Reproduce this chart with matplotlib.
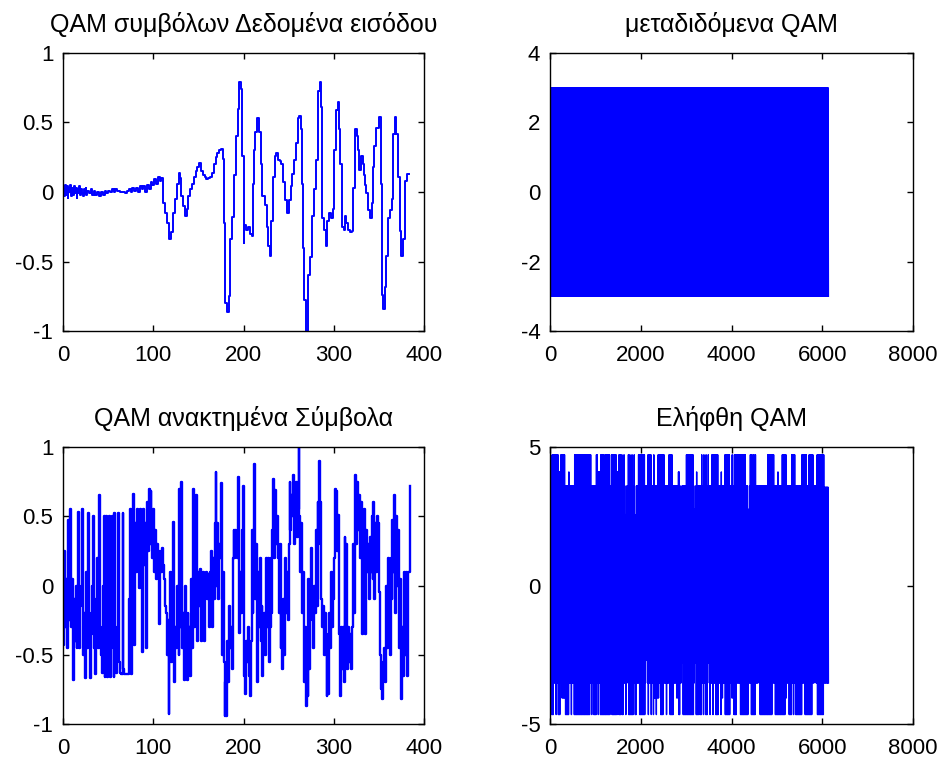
import numpy as np
import matplotlib
matplotlib.use("Agg")
import matplotlib.pyplot as plt
from matplotlib.ticker import FormatStrFormatter

SAMPLES_PER_SYMBOL = 16
N_SYMBOLS = 384

# input data (sample index where the held value changes, value)
inp_idx = [0, 1, 2, 3, 4, 5, 6, 7, 8, 9, 10, 11, 12, 13, 14, 15, 16, 17, 18, 19,
           20, 21, 22, 23, 24, 25, 26, 27, 29, 31, 32, 34, 36, 38, 40, 42, 44, 46,
           48, 50, 52, 54, 56, 58, 60, 63, 67, 69, 71, 73, 75, 77, 79, 81, 83, 85,
           87, 89, 91, 93, 95, 97, 99, 101, 103, 105, 107, 109,
           111, 113, 115, 117, 118, 120, 122, 124, 126, 128, 130, 131, 133, 135,
           137, 139, 141, 143, 145, 147, 149, 151, 153, 155, 157, 159, 161, 163,
           165, 167, 169, 171, 173, 175, 177, 178, 180, 182, 184, 185, 187, 189,
           190, 192, 194, 195, 197, 198, 200, 201, 203, 205, 207, 209, 211, 212,
           213, 215, 217, 219, 220, 221, 224, 226, 227, 229, 231, 233, 235, 236,
           238, 240, 242, 244, 246, 248, 250, 253, 254, 256, 258, 260, 262, 264,
           265, 266, 267, 269, 272, 274, 276, 278, 280, 282, 283, 285, 286, 287,
           289, 291, 293, 295, 297, 299, 300, 302, 303, 305, 306, 307, 309, 311,
           312, 314, 316, 318, 320, 321, 323, 324, 326, 327, 328, 330, 332, 333,
           335, 336, 338, 340, 342, 343, 345, 347, 350, 352, 353, 355, 357, 358,
           360, 362, 364, 366, 368, 369, 371, 373, 375, 377, 379, 381, 383]
inp_val = [0.02, -0.03, 0.05, -0.02, 0.04, -0.04, 0.03, 0.0, 0.05, -0.03, 0.03,
           -0.02, 0.04, -0.01, 0.03, -0.04, 0.02, -0.01, 0.04, -0.02,
           0.02, -0.01, -0.03, 0.02, -0.01, 0.03, -0.02, 0.01, -0.01, 0.02, -0.02,
           0.01, -0.02, 0.0, -0.03, 0.0, -0.02, 0.01, -0.01, 0.01, 0.0, 0.02, 0.0,
           0.02, 0.01, 0.0, 0.0, -0.01, 0.01, 0.02, 0.0, 0.03, 0.01, 0.03, 0.0,
           0.04, 0.02, 0.04, 0.0, 0.05, 0.02, 0.07, 0.05, 0.09, 0.06, 0.11, 0.08,
           0.10,
           -0.08, -0.15, -0.22, -0.30, -0.34, -0.29, -0.15, -0.05, 0.06, 0.14,
           0.10, -0.03, -0.10, -0.17, -0.12, -0.03, 0.02, 0.06, 0.11, 0.15, 0.18,
           0.21, 0.15, 0.12, 0.11, 0.09, 0.10, 0.11, 0.14, 0.20, 0.25, 0.28, 0.30,
           0.31, 0.24, -0.22, -0.80, -0.86, -0.75, -0.34, -0.18, -0.09, 0.12, 0.40,
           0.60, 0.79, 0.74, 0.26, -0.37, -0.24, -0.27, -0.25, -0.30, -0.32, 0.06,
           0.30, 0.43, 0.53, 0.43, 0.20, 0.06, -0.03, -0.09, -0.25, -0.39, -0.46,
           -0.21, 0.11, 0.26, 0.28, 0.23, 0.22, 0.20, 0.07, -0.06, -0.15, -0.06,
           0.04, 0.13, 0.23, 0.35, 0.53, 0.55, 0.45, 0.06, -0.40, -0.78, -1.00,
           -0.60, -0.47, -0.17, 0.02, 0.23, 0.50, 0.73, 0.79, 0.61, -0.19, -0.27,
           -0.39, -0.21, -0.15, -0.19, -0.12, 0.30, 0.45, 0.59, 0.65, 0.45, 0.20,
           -0.25, -0.27, -0.17, -0.22, -0.27, -0.29, -0.28, 0.03, 0.28, 0.45, 0.40,
           0.30, 0.16, 0.26, 0.20, 0.12, 0.05, -0.01, -0.13, -0.19, -0.08, 0.18,
           0.33, 0.46, 0.54, 0.06, -0.74, -0.84, -0.68, -0.46, -0.19, -0.13, -0.05,
           0.42, 0.54, 0.42, 0.11, -0.28, -0.46, -0.34, 0.08, 0.13, 0.13]

# recovered symbols, one value per symbol
rec_val = [
    -0.43, 0.25, -0.30, 0.05, -0.45, 0.20, 0.47, -0.25, 0.55, -0.30,
    0.05, -0.68, -0.10, -0.40, 0.00, -0.45, -0.20, 0.53, -0.45, -0.15,
    0.00, 0.55, -0.50, -0.20, -0.67, -0.30, 0.10, -0.45, 0.52, -0.20,
    -0.67, -0.35, 0.00, 0.50, -0.45, -0.10, -0.64, -0.30, 0.20, -0.45,
    0.65, -0.30, -0.50, -0.63, 0.00, 0.50, -0.66, -0.20, 0.50, -0.66,
    -0.30, 0.50, -0.66, -0.45, 0.50, -0.20, -0.66, 0.52, -0.50, -0.63,
    -0.30, 0.52, -0.55, -0.63, -0.64, -0.64, 0.52, -0.60, -0.64, -0.64,
    -0.64, -0.64, -0.64, -0.10, 0.55, -0.64, 0.20, 0.35, 0.66, -0.43,
    0.45, 0.10, 0.55, 0.25, -0.02, 0.55, 0.30, 0.05, -0.48, 0.55,
    0.15, 0.45, -0.45, 0.60, 0.25, 0.70, 0.30, 0.68, 0.40, 0.20,
    0.55, 0.10, 0.40, 0.05, 0.30, 0.15, -0.28, 0.25, 0.20, 0.10,
    0.27, 0.15, 0.05, -0.15, -0.20, -0.50, -0.25, -0.93, -0.35, 0.10,
    -0.55, -0.20, 0.46, -0.70, -0.30, -0.45, 0.00, -0.20, -0.50, 0.70,
    -0.30, 0.75, -0.45, -0.20, -0.68, 0.00, -0.40, -0.68, -0.20, -0.50,
    -0.30, -0.65, 0.05, -0.45, 0.70, -0.30, -0.05, 0.65, -0.05, -0.40,
    0.10, -0.15, 0.12, -0.40, 0.05, 0.10, -0.40, 0.08, 0.05, 0.10,
    -0.10, 0.08, -0.30, 0.10, 0.25, -0.30, 0.20, -0.10, 0.45, 0.82,
    0.00, 0.45, -0.10, 0.30, 0.20, 0.74, -0.50, 0.10, -0.55, -0.94,
    -0.70, -0.94, -0.40, -0.70, -0.15, -0.45, -0.30, -0.60, 0.20, 0.40,
    0.20, 0.40, 0.35, 0.20, 0.78, -0.34, 0.10, -0.20, 0.40, 0.72,
    -0.30, -0.65, -0.78, -0.40, -0.55, -0.30, -0.65, -0.80, -0.40, 0.40,
    -0.20, 0.10, 0.88, -0.10, 0.30, -0.70, 0.10, -0.30, 0.20, -0.40,
    -0.15, -0.65, -0.40, -0.20, -0.50, 0.20, -0.30, 0.20, -0.55, -0.30,
    0.20, -0.20, 0.40, 0.77, 0.20, 0.69, 0.30, 0.50, 0.20, -0.20,
    0.30, -0.45, -0.20, -0.60, -0.10, -0.50, 0.20, -0.20, 0.10, -0.25,
    0.30, 0.75, 0.40, 0.65, 0.50, 0.80, 0.30, 0.60, 0.75, 0.35,
    0.55, 1.00, 0.50, 0.10, 0.45, -0.20, 0.10, -0.70, -0.30, -0.87,
    -0.50, -0.80, 0.05, -0.60, -0.25, 0.27, -0.10, -0.45, 0.00, -0.20,
    0.40, -0.15, 0.60, 0.30, 0.90, 0.60, -0.10, -0.30, -0.15, -0.50,
    -0.20, -0.35, -0.80, -0.50, -0.78, -0.20, -0.45, 0.10, -0.30, -0.10,
    0.20, 0.70, 0.50, 0.68, 0.25, 0.51, -0.35, -0.80, -0.30, -0.60,
    -0.30, -0.70, 0.35, -0.40, 0.30, -0.60, -0.30, -0.55, -0.35, -0.60,
    -0.30, 0.30, -0.20, 0.30, 0.80, 0.30, 0.75, 0.40, 0.65, 0.20,
    0.60, -0.35, 0.40, 0.00, 0.55, -0.35, 0.40, 0.10, 0.30, -0.10,
    0.35, 0.10, 0.50, 0.05, 0.60, -0.10, 0.45, 0.10, 0.50, 0.45,
    -0.05, -0.50, -0.75, -0.55, -0.82, -0.60, -0.45, -0.70, 0.00, -0.45,
    0.20, -0.20, -0.50, 0.20, -0.10, 0.47, 0.10, 0.65, -0.20, 0.50,
    0.00, 0.40, -0.45, 0.05, -0.55, -0.82, -0.30, -0.65, 0.10, -0.50,
    0.10, -0.65, 0.10, 0.10, 0.72,
]

# transmitted waveform: per-symbol positive / negative peaks (symbol where a run starts)
tx_top_start = [0]
tx_top_level = [3.0]
tx_bot_start = [0]
tx_bot_level = [-3.0]

# received waveform: per-symbol positive / negative peaks (symbol where a run starts)
rx_top_start = [0, 3, 12, 15, 21, 26, 27, 34, 57, 64, 66, 70, 75, 76, 83, 85, 92,
                95, 98, 99, 100, 102, 103, 104, 106, 108, 109, 110, 111, 113,
                114, 116, 117, 119, 122, 131, 135, 140, 143, 144, 149, 158, 164,
                169, 177, 179, 180, 182, 188, 198, 199, 201, 202, 203, 209, 210,
                212, 213, 215, 216, 218, 219, 223, 232, 236, 237, 241, 248, 251,
                252, 254, 270, 273, 275, 276, 279, 280, 282, 283, 284, 300, 309,
                314, 315, 320, 326, 333, 338, 347, 354, 357, 363, 368, 378]
rx_top_level = [4.1, 4.72, 4.1, 4.72, 3.6, 4.1, 3.6, 4.72, 3.6, 4.72, 4.1, 4.72,
                4.1, 4.72, 3.6, 4.72, 4.1, 4.72, 3.6, 4.72, 3.6, 4.72, 3.6, 2.56,
                3.6, 4.72, 3.6, 4.72, 3.6, 4.72, 3.6, 4.72, 2.56, 3.6, 4.72, 3.6,
                4.72, 3.6, 4.72, 3.6, 4.72, 3.6, 4.72, 3.6, 4.1, 3.6, 2.56, 3.6,
                4.72, 3.6, 2.75, 3.6, 4.1, 3.6, 4.72, 3.6, 4.72, 3.6, 4.72, 3.6,
                4.72, 3.6, 4.72, 3.6, 4.1, 3.6, 4.72, 3.6, 4.72, 3.6, 4.72, 3.6,
                2.75, 3.6, 4.72, 3.6, 4.72, 3.6, 4.72, 3.6, 4.72, 3.6, 4.1, 3.6,
                4.72, 3.6, 4.72, 3.6, 4.72, 3.6, 4.72, 3.6, 4.72, 3.55]
rx_bot_start = [0, 2, 5, 8, 9, 11, 14, 16, 21, 26, 29, 30, 33, 55, 57, 58, 60, 64,
                66, 67, 69, 83, 85, 92, 93, 94, 95, 98, 99, 101, 104, 105, 107,
                108, 115, 117, 119, 123, 131, 132, 134, 135, 136, 139, 140, 142,
                143, 146, 147, 150, 152, 156, 160, 161, 165, 170, 174, 176, 177,
                179, 181, 183, 198, 199, 201, 205, 206, 209, 211, 212, 214, 217,
                219, 220, 221, 224, 225, 228, 232, 235, 236, 238, 241, 248, 250,
                252, 253, 257, 262, 273, 277, 283, 287, 289, 306, 310, 324, 326,
                329, 333, 335, 336, 338, 347, 351, 361, 364, 366, 368, 377]
rx_bot_level = [-3.52, -4.66, -3.52, -4.66, -3.52, -4.66, -3.52, -4.06, -4.66,
                -3.52, -4.66, -3.52, -4.66, -3.52, -4.66, -3.52, -4.66, -3.52,
                -4.66, -3.52, -4.66, -3.52, -4.66, -3.52, -4.66, -3.52, -4.66,
                -3.52, -4.66, -3.52, -4.66, -2.8, -3.52, -4.66, -3.52, -4.66,
                -3.52, -4.66, -3.52, -2.7, -3.52, -4.66, -3.52, -4.66, -3.52,
                -4.66, -4.06, -4.66, -4.06, -3.52, -4.66, -3.52, -4.66, -3.52,
                -4.66, -3.52, -4.06, -3.52, -4.66, -3.52, -2.8, -4.66, -3.52,
                -2.8, -4.66, -3.52, -4.66, -3.52, -4.66, -3.52, -4.66, -2.8,
                -3.52, -4.66, -3.52, -4.66, -3.52, -4.66, -3.52, -4.66, -4.06,
                -3.52, -4.66, -3.52, -4.06, -3.52, -4.66, -3.52, -4.66, -3.52,
                -4.66, -3.52, -2.8, -4.66, -3.52, -4.66, -4.06, -3.52, -4.66,
                -3.52, -4.66, -3.52, -4.66, -3.52, -4.66, -3.52, -2.8, -3.52,
                -4.66, -3.52]


def expand_runs(starts, levels, n):
    lengths = np.diff(np.append(starts, n))
    return np.repeat(levels, lengths)


def peak_trace(top_start, top_level, bot_start, bot_level):
    hi = expand_runs(top_start, top_level, N_SYMBOLS)
    lo = expand_runs(bot_start, bot_level, N_SYMBOLS)
    y = np.empty(2 * N_SYMBOLS)
    y[0::2] = hi
    y[1::2] = lo
    x = np.arange(2 * N_SYMBOLS) * (SAMPLES_PER_SYMBOL // 2)
    return x, y


plt.rcParams['font.family'] = ['Liberation Sans', 'DejaVu Sans']
plt.rcParams['font.size'] = 16

fig = plt.figure(figsize=(9.43, 7.6), dpi=100)
W, H = 943.0, 760.0


def make_axes(x0, y_top, x1, y_bot):
    return fig.add_axes([x0 / W, 1 - y_bot / H, (x1 - x0) / W, (y_bot - y_top) / H])


ax1 = make_axes(63, 53, 424, 331)
ax2 = make_axes(550, 53, 913, 331)
ax3 = make_axes(63, 447, 424, 724)
ax4 = make_axes(550, 447, 913, 724)

blue = (0, 0, 1)
ax1.plot(inp_idx, inp_val, color=blue, lw=1.4, drawstyle='steps-post')
ax3.plot(np.arange(len(rec_val)), rec_val, color=blue, lw=1.7, drawstyle='steps-post')

tx_x, tx_y = peak_trace(tx_top_start, tx_top_level, tx_bot_start, tx_bot_level)
ax2.plot(tx_x, tx_y, color=blue, lw=1.0)
rx_x, rx_y = peak_trace(rx_top_start, rx_top_level, rx_bot_start, rx_bot_level)
ax4.plot(rx_x, rx_y, color=blue, lw=1.0)

ax1.set_xlim(0, 400)
ax1.set_ylim(-1, 1)
ax1.set_xticks([0, 100, 200, 300, 400])
ax1.set_yticks([-1, -0.5, 0, 0.5, 1])
ax3.set_xlim(0, 400)
ax3.set_ylim(-1, 1)
ax3.set_xticks([0, 100, 200, 300, 400])
ax3.set_yticks([-1, -0.5, 0, 0.5, 1])
ax2.set_xlim(0, 8000)
ax2.set_ylim(-4, 4)
ax2.set_xticks([0, 2000, 4000, 6000, 8000])
ax2.set_yticks([-4, -2, 0, 2, 4])
ax4.set_xlim(0, 8000)
ax4.set_ylim(-5, 5)
ax4.set_xticks([0, 2000, 4000, 6000, 8000])
ax4.set_yticks([-5, 0, 5])

ax1.set_title('QAM συμβόλων Δεδομένα εισόδου', fontsize=18, pad=15)
ax2.set_title('μεταδιδόμενα QAM', fontsize=18, pad=15)
ax3.set_title('QAM ανακτημένα Σύμβολα', fontsize=18, pad=15)
ax4.set_title('Ελήφθη QAM', fontsize=18, pad=15)

for ax in (ax1, ax2, ax3, ax4):
    ax.yaxis.set_major_formatter(FormatStrFormatter('%g'))
    ax.tick_params(direction='in', top=True, right=True, length=4, width=1,
                   labelsize=16)
    ax.tick_params(axis='x', pad=10)
    ax.tick_params(axis='y', pad=7)
    for s in ax.spines.values():
        s.set_linewidth(1.0)

fig.savefig('out.png', dpi=100)
